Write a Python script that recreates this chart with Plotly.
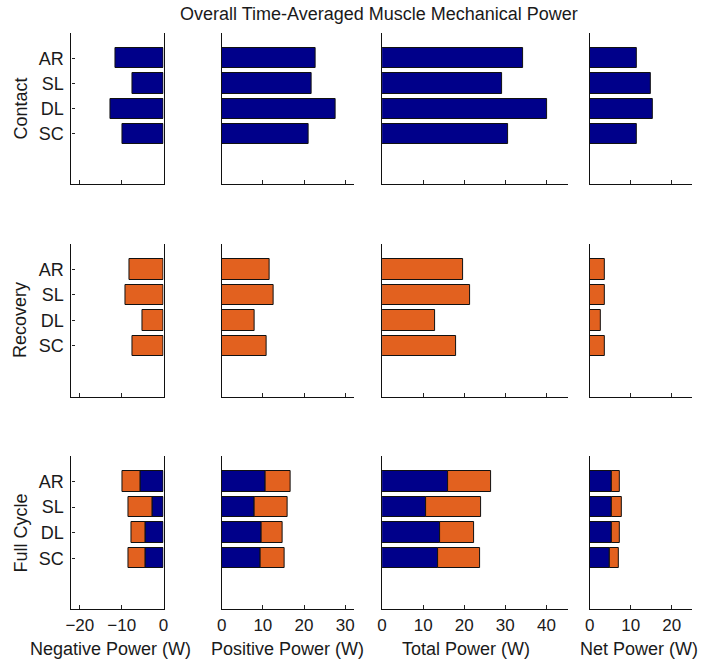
import plotly.graph_objects as go

# ---------------- data ----------------
conditions = ["AR", "SL", "DL", "SC"]
panels = ["Negative Power (W)", "Positive Power (W)", "Total Power (W)", "Net Power (W)"]
rows = ["Contact", "Recovery", "Full Cycle"]

contact_neg = [-11.5, -7.5, -12.8, -9.8]
contact_pos = [22.9, 21.8, 27.7, 21.2]
contact_total = [34.4, 29.3, 40.1, 30.7]
contact_net = [11.5, 15.0, 15.4, 11.5]

recovery_neg = [-8.1, -9.1, -5.0, -7.4]
recovery_pos = [11.7, 12.6, 7.9, 11.0]
recovery_total = [19.7, 21.4, 12.9, 18.1]
recovery_net = [3.6, 3.6, 2.8, 3.6]

# full cycle: contact share (blue) and recovery share (orange), stacked
full_contact_neg = [-5.4, -2.7, -4.4, -4.4]
full_recovery_neg = [-4.3, -5.7, -3.3, -4.0]
full_contact_pos = [10.7, 8.0, 9.7, 9.4]
full_recovery_pos = [6.0, 8.0, 5.0, 6.0]
full_contact_total = [16.0, 10.6, 14.1, 13.6]
full_recovery_total = [10.5, 13.5, 8.3, 10.2]
full_contact_net = [5.3, 5.3, 5.3, 4.9]
full_recovery_net = [2.0, 2.4, 2.0, 2.1]

x_ranges = [[-22, 0], [0, 32], [0, 45.3], [0, 25]]
x_ticks = [[-20, -10, 0], [0, 10, 20, 30], [0, 10, 20, 30, 40], [0, 10, 20]]

BLUE = "#00008A"
ORANGE = "#E2611F"
FONT = "Liberation Sans, Arial, Helvetica, sans-serif"
TXT = "#1a1a1a"

W, H = 711, 667
col_px = [(66.5, 160), (219, 353), (382, 571), (593, 697)]
row_px = [(33, 184.3), (244, 396.7), (456, 609.3)]

def fx(p):
    return p / W

def fy(p):
    return 1 - p / H

pos_y = [1, 2, 3, 4]

fig = go.Figure()
layout = {}

row_data = [
    [[(contact_neg, BLUE)], [(contact_pos, BLUE)], [(contact_total, BLUE)], [(contact_net, BLUE)]],
    [[(recovery_neg, ORANGE)], [(recovery_pos, ORANGE)], [(recovery_total, ORANGE)], [(recovery_net, ORANGE)]],
    [[(full_contact_neg, BLUE), (full_recovery_neg, ORANGE)],
     [(full_contact_pos, BLUE), (full_recovery_pos, ORANGE)],
     [(full_contact_total, BLUE), (full_recovery_total, ORANGE)],
     [(full_contact_net, BLUE), (full_recovery_net, ORANGE)]],
]

idx = 0
for r in range(3):
    for c in range(4):
        idx += 1
        xa = "x" if idx == 1 else f"x{idx}"
        ya = "y" if idx == 1 else f"y{idx}"
        xkey = "xaxis" if idx == 1 else f"xaxis{idx}"
        ykey = "yaxis" if idx == 1 else f"yaxis{idx}"
        for vals, color in row_data[r][c]:
            fig.add_trace(go.Bar(
                x=vals, y=pos_y, orientation="h", width=0.8,
                marker=dict(color=color, line=dict(color="#111111", width=1)),
                xaxis=xa, yaxis=ya, showlegend=False, hoverinfo="x+y",
            ))
        layout[xkey] = dict(
            domain=[fx(col_px[c][0]), fx(col_px[c][1])],
            anchor=ya, range=x_ranges[c], tickvals=x_ticks[c],
            ticks="inside", ticklen=4, tickcolor="#222222",
            showticklabels=(r == 2),
            tickfont=dict(family=FONT, size=17, color=TXT),
            showline=True, linecolor="#111111", linewidth=1.3,
            showgrid=False, zeroline=False, fixedrange=True,
        )
        layout[ykey] = dict(
            domain=[fy(row_px[r][1]), fy(row_px[r][0])],
            anchor=xa, range=[6, 0],
            tickvals=pos_y, ticktext=conditions,
            ticks="inside" if c == 0 else "", ticklen=3, tickcolor="#222222",
            showticklabels=(c == 0), ticklabelstandoff=3,
            tickfont=dict(family=FONT, size=18, color=TXT),
            showline=True, linecolor="#111111", linewidth=1.3,
            mirror=(c == 0),
            showgrid=False, zeroline=False, fixedrange=True,
        )

annotations = []
annotations.append(dict(
    text="Overall Time-Averaged Muscle Mechanical Power",
    x=fx(379), y=fy(14), xref="paper", yref="paper",
    xanchor="center", yanchor="middle", showarrow=False,
    font=dict(family=FONT, size=18, color=TXT),
))
title_cx = [106, 286, 467, 643]
for c in range(4):
    annotations.append(dict(
        text=panels[c], x=fx(title_cx[c]), y=fy(649), xref="paper", yref="paper",
        xanchor="center", yanchor="middle", showarrow=False,
        font=dict(family=FONT, size=18, color=TXT),
    ))
for r in range(3):
    cy = (row_px[r][0] + row_px[r][1]) / 2
    annotations.append(dict(
        text=rows[r], x=fx(15), y=fy(cy), xref="paper", yref="paper",
        xanchor="center", yanchor="middle", showarrow=False, textangle=-90,
        font=dict(family=FONT, size=18, color=TXT),
    ))

fig.update_layout(
    width=W, height=H,
    margin=dict(l=0, r=0, t=0, b=0),
    paper_bgcolor="white", plot_bgcolor="white",
    barmode="relative", bargap=0,
    annotations=annotations,
    **layout,
)

fig.write_html("out.html", config={"displayModeBar": False},
               post_script="document.body.style.margin='0';document.body.style.padding='0';")
